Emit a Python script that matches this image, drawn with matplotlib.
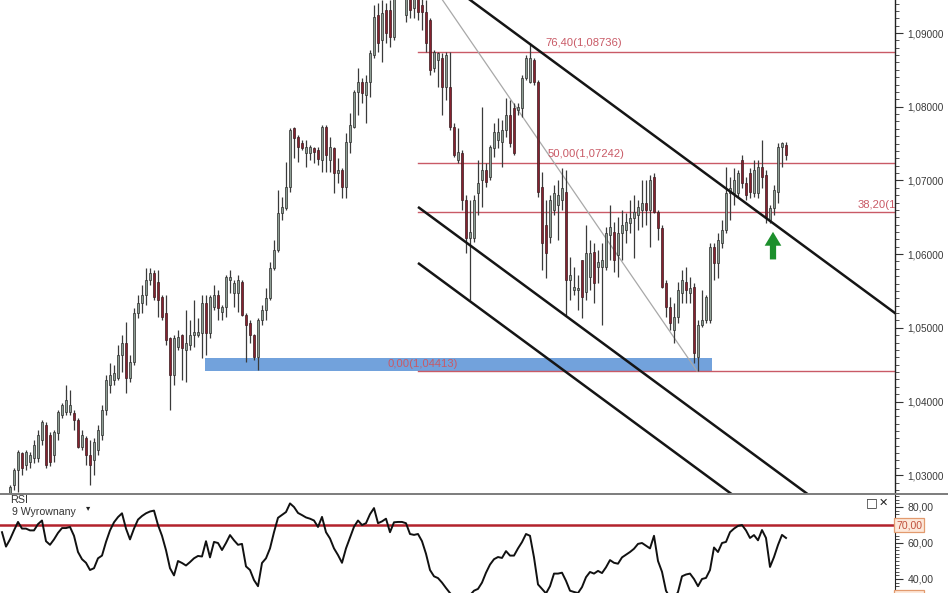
import matplotlib
matplotlib.use('Agg')
import matplotlib.pyplot as plt
from matplotlib.ticker import FixedLocator, MultipleLocator, FuncFormatter
from matplotlib.patches import Rectangle
from matplotlib.lines import Line2D
import numpy as np

plt.rcParams['font.family'] = ['Liberation Sans', 'DejaVu Sans']

# ---------------- data ----------------
open_ = [1.0262, 1.0270, 1.0276, 1.0287, 1.0307, 1.0330, 1.0314, 1.0318, 1.0323, 1.0323,
         1.0348, 1.0368, 1.0355, 1.0328, 1.0357, 1.0382, 1.0386, 1.0386, 1.0385, 1.0375,
         1.0338, 1.0351, 1.0328, 1.0321, 1.0334, 1.0355, 1.0389, 1.0423, 1.0429, 1.0432,
         1.0463, 1.0480, 1.0432, 1.0454, 1.0520, 1.0534, 1.0545, 1.0565, 1.0575, 1.0562,
         1.0542, 1.0520, 1.0486, 1.0436, 1.0474, 1.0490, 1.0470, 1.0477, 1.0490, 1.0490,
         1.0493, 1.0534, 1.0493, 1.0528, 1.0545, 1.0522, 1.0528, 1.0565, 1.0547, 1.0547,
         1.0562, 1.0518, 1.0507, 1.0490, 1.0461, 1.0511, 1.0524, 1.0541, 1.0581, 1.0606,
         1.0656, 1.0663, 1.0691, 1.0771, 1.0759, 1.0751, 1.0737, 1.0737, 1.0744, 1.0741,
         1.0728, 1.0773, 1.0728, 1.0744, 1.0710, 1.0714, 1.0691, 1.0752, 1.0773, 1.0820,
         1.0834, 1.0816, 1.0834, 1.0870, 1.0924, 1.0890, 1.0931, 1.0931, 1.0895, 1.0960,
         1.0980, 1.0924, 1.0960, 1.0934, 1.0950, 1.0938, 1.0929, 1.0918, 1.0853, 1.0863,
         1.0866, 1.0827, 1.0827, 1.0773, 1.0728, 1.0737, 1.0674, 1.0622, 1.0622, 1.0683,
         1.0701, 1.0714, 1.0705, 1.0744, 1.0755, 1.0752, 1.0769, 1.0789, 1.0798, 1.0796,
         1.0798, 1.0839, 1.0834, 1.0863, 1.0834, 1.0691, 1.0640, 1.0623, 1.0660, 1.0667,
         1.0674, 1.0684, 1.0565, 1.0551, 1.0551, 1.0592, 1.0549, 1.0569, 1.0603, 1.0583,
         1.0583, 1.0583, 1.0626, 1.0630, 1.0599, 1.0629, 1.0633, 1.0642, 1.0649, 1.0653,
         1.0660, 1.0670, 1.0660, 1.0705, 1.0657, 1.0636, 1.0561, 1.0528, 1.0497, 1.0515,
         1.0547, 1.0562, 1.0547, 1.0556, 1.0461, 1.0504, 1.0511, 1.0511, 1.0610, 1.0588,
         1.0615, 1.0633, 1.0683, 1.0683, 1.0683, 1.0728, 1.0697, 1.0710, 1.0683, 1.0683,
         1.0718, 1.0708, 1.0646, 1.0663, 1.0684, 1.0746, 1.0748]
high = [1.0275, 1.0276, 1.0287, 1.0310, 1.0334, 1.0332, 1.0334, 1.0332, 1.0348, 1.0362,
        1.0375, 1.0372, 1.0359, 1.0362, 1.0389, 1.0398, 1.0423, 1.0416, 1.0389, 1.0378,
        1.0362, 1.0353, 1.0348, 1.0351, 1.0368, 1.0395, 1.0436, 1.0452, 1.0450, 1.0477,
        1.0490, 1.0508, 1.0463, 1.0527, 1.0545, 1.0558, 1.0581, 1.0581, 1.0579, 1.0579,
        1.0545, 1.0545, 1.0488, 1.0490, 1.0497, 1.0492, 1.0524, 1.0511, 1.0538, 1.0513,
        1.0545, 1.0545, 1.0545, 1.0558, 1.0551, 1.0531, 1.0572, 1.0579, 1.0565, 1.0572,
        1.0565, 1.0520, 1.0511, 1.0492, 1.0513, 1.0531, 1.0554, 1.0589, 1.0619, 1.0687,
        1.0678, 1.0725, 1.0771, 1.0773, 1.0762, 1.0755, 1.0755, 1.0748, 1.0746, 1.0746,
        1.0775, 1.0775, 1.0759, 1.0746, 1.0731, 1.0717, 1.0765, 1.0792, 1.0823, 1.0853,
        1.0839, 1.0843, 1.0877, 1.0938, 1.0941, 1.0945, 1.0941, 1.0945, 1.0965, 1.0990,
        1.1007, 1.0990, 1.0970, 1.0960, 1.0960, 1.0950, 1.0945, 1.0920, 1.0877, 1.0874,
        1.0873, 1.0874, 1.0874, 1.0778, 1.0771, 1.0741, 1.0680, 1.0674, 1.0680, 1.0728,
        1.0800, 1.0724, 1.0748, 1.0778, 1.0785, 1.0782, 1.0812, 1.0809, 1.0805, 1.0805,
        1.0843, 1.0870, 1.0886, 1.0866, 1.0836, 1.0712, 1.0674, 1.0680, 1.0694, 1.0701,
        1.0717, 1.0714, 1.0596, 1.0583, 1.0572, 1.0592, 1.0640, 1.0619, 1.0615, 1.0606,
        1.0615, 1.0637, 1.0667, 1.0644, 1.0650, 1.0660, 1.0656, 1.0674, 1.0680, 1.0674,
        1.0701, 1.0701, 1.0708, 1.0710, 1.0660, 1.0640, 1.0565, 1.0542, 1.0534, 1.0562,
        1.0579, 1.0583, 1.0569, 1.0561, 1.0511, 1.0551, 1.0545, 1.0615, 1.0615, 1.0629,
        1.0646, 1.0718, 1.0704, 1.0717, 1.0714, 1.0735, 1.0705, 1.0717, 1.0728, 1.0728,
        1.0755, 1.0714, 1.0667, 1.0694, 1.0751, 1.0752, 1.0752]
low = [1.0255, 1.0258, 1.0267, 1.0280, 1.0277, 1.0300, 1.0307, 1.0310, 1.0317, 1.0318,
       1.0341, 1.0310, 1.0313, 1.0318, 1.0348, 1.0378, 1.0382, 1.0382, 1.0362, 1.0337,
       1.0334, 1.0314, 1.0287, 1.0300, 1.0328, 1.0348, 1.0382, 1.0412, 1.0423, 1.0429,
       1.0440, 1.0412, 1.0427, 1.0450, 1.0513, 1.0520, 1.0531, 1.0558, 1.0538, 1.0515,
       1.0511, 1.0477, 1.0389, 1.0423, 1.0470, 1.0429, 1.0427, 1.0470, 1.0474, 1.0488,
       1.0459, 1.0463, 1.0486, 1.0524, 1.0511, 1.0511, 1.0515, 1.0547, 1.0528, 1.0522,
       1.0516, 1.0454, 1.0480, 1.0456, 1.0443, 1.0504, 1.0511, 1.0538, 1.0579, 1.0603,
       1.0646, 1.0660, 1.0684, 1.0731, 1.0725, 1.0741, 1.0718, 1.0728, 1.0724, 1.0721,
       1.0712, 1.0712, 1.0712, 1.0683, 1.0697, 1.0676, 1.0676, 1.0737, 1.0771, 1.0789,
       1.0805, 1.0778, 1.0813, 1.0866, 1.0874, 1.0861, 1.0886, 1.0881, 1.0890, 1.0950,
       1.0960, 1.0915, 1.0920, 1.0920, 1.0918, 1.0904, 1.0874, 1.0843, 1.0847, 1.0827,
       1.0789, 1.0809, 1.0769, 1.0732, 1.0724, 1.0660, 1.0602, 1.0538, 1.0617, 1.0653,
       1.0664, 1.0691, 1.0701, 1.0732, 1.0744, 1.0718, 1.0759, 1.0746, 1.0735, 1.0789,
       1.0786, 1.0836, 1.0832, 1.0830, 1.0678, 1.0579, 1.0568, 1.0615, 1.0653, 1.0619,
       1.0660, 1.0518, 1.0538, 1.0545, 1.0524, 1.0513, 1.0538, 1.0551, 1.0534, 1.0561,
       1.0504, 1.0579, 1.0592, 1.0576, 1.0569, 1.0592, 1.0615, 1.0629, 1.0595, 1.0633,
       1.0637, 1.0640, 1.0610, 1.0656, 1.0619, 1.0554, 1.0515, 1.0497, 1.0480, 1.0507,
       1.0534, 1.0534, 1.0534, 1.0452, 1.0441, 1.0501, 1.0507, 1.0507, 1.0565, 1.0568,
       1.0608, 1.0629, 1.0646, 1.0667, 1.0678, 1.0690, 1.0674, 1.0676, 1.0678, 1.0676,
       1.0690, 1.0642, 1.0642, 1.0653, 1.0670, 1.0718, 1.0728]
close = [1.0270, 1.0266, 1.0284, 1.0307, 1.0332, 1.0310, 1.0332, 1.0328, 1.0341, 1.0355,
         1.0372, 1.0314, 1.0318, 1.0359, 1.0386, 1.0395, 1.0402, 1.0395, 1.0375, 1.0338,
         1.0355, 1.0328, 1.0314, 1.0345, 1.0362, 1.0389, 1.0429, 1.0436, 1.0439, 1.0463,
         1.0480, 1.0432, 1.0454, 1.0520, 1.0534, 1.0545, 1.0565, 1.0575, 1.0542, 1.0538,
         1.0515, 1.0484, 1.0436, 1.0486, 1.0488, 1.0473, 1.0480, 1.0490, 1.0494, 1.0494,
         1.0534, 1.0493, 1.0542, 1.0545, 1.0527, 1.0528, 1.0569, 1.0569, 1.0561, 1.0565,
         1.0518, 1.0504, 1.0490, 1.0461, 1.0511, 1.0524, 1.0541, 1.0581, 1.0606, 1.0656,
         1.0664, 1.0691, 1.0769, 1.0758, 1.0746, 1.0744, 1.0746, 1.0746, 1.0739, 1.0729,
         1.0773, 1.0735, 1.0746, 1.0710, 1.0714, 1.0691, 1.0752, 1.0775, 1.0820, 1.0834,
         1.0819, 1.0834, 1.0873, 1.0922, 1.0886, 1.0927, 1.0900, 1.0895, 1.0960, 1.0980,
         1.0975, 1.0975, 1.0931, 1.0950, 1.0929, 1.0929, 1.0886, 1.0850, 1.0874, 1.0873,
         1.0827, 1.0870, 1.0773, 1.0735, 1.0739, 1.0674, 1.0622, 1.0630, 1.0674, 1.0697,
         1.0714, 1.0698, 1.0746, 1.0766, 1.0766, 1.0769, 1.0789, 1.0751, 1.0737, 1.0800,
         1.0839, 1.0866, 1.0866, 1.0834, 1.0684, 1.0615, 1.0602, 1.0674, 1.0683, 1.0680,
         1.0690, 1.0565, 1.0572, 1.0556, 1.0554, 1.0542, 1.0602, 1.0602, 1.0561, 1.0589,
         1.0592, 1.0629, 1.0637, 1.0592, 1.0629, 1.0640, 1.0644, 1.0649, 1.0657, 1.0664,
         1.0670, 1.0660, 1.0701, 1.0657, 1.0636, 1.0556, 1.0528, 1.0507, 1.0515, 1.0551,
         1.0565, 1.0551, 1.0554, 1.0466, 1.0504, 1.0511, 1.0542, 1.0610, 1.0588, 1.0619,
         1.0633, 1.0683, 1.0690, 1.0701, 1.0710, 1.0697, 1.0680, 1.0684, 1.0714, 1.0718,
         1.0705, 1.0650, 1.0663, 1.0687, 1.0746, 1.0751, 1.0735]

rsi = [66, 58, 62, 67, 71.7, 68, 68, 67, 67, 70.5,
       72.5, 61, 59, 62, 65.6, 68.3, 68.3, 68.9, 64, 55,
       51, 49, 45, 46, 51.5, 53, 60.6, 67, 71.5, 74.4,
       76.5, 68, 62, 68, 73, 75, 76.5, 77.5, 78, 70,
       64, 56, 46, 42, 50, 48.9, 47.5, 49.4, 51.5, 52.8,
       52.5, 61, 52, 60.6, 60, 56.1, 60, 64.4, 61.5, 59,
       59.5, 47, 45, 39.4, 36, 48.9, 51.5, 57, 66, 74,
       75.6, 77.2, 82, 80, 76.7, 75.5, 74.2, 73.5, 72.5, 68.9,
       74.5, 66, 62.5, 57, 53.3, 49, 57, 63, 69, 72.5,
       70, 71, 76, 79.4, 71, 72, 73.5, 66, 71.5, 71.7,
       71.7, 71, 65, 64.5, 65, 61, 54, 45, 41.5, 40.5,
       38, 35, 32.2, 30, 29, 28.5, 29.5, 31, 33.5, 34.5,
       38, 43.5, 48, 51, 52.2, 51.7, 55.5, 53, 53, 57,
       60.5, 65, 64, 52, 37, 34.5, 32, 36, 43, 43,
       43.5, 39, 33.5, 32.8, 32.2, 35.5, 41, 43.9, 43, 44.5,
       43.3, 46.5, 50.5, 49, 48.5, 52, 53.5, 55, 56.8, 59.5,
       60, 58.5, 57, 64, 50, 44, 33.5, 29.5, 29, 32.8,
       41.5, 42.5, 43, 40, 36, 40, 40.6, 45, 57.5, 55,
       60, 60.6, 66, 68, 69.5, 70, 67, 62.8, 64.4, 61.5,
       67.2, 62.8, 46.7, 52.2, 58.9, 64.5, 62.8]

# Fibonacci retracement (0 = low, 100 = high)
fib_low = 1.04413
fib_high = 1.10071
fib_levels = [0.0, 38.2, 50.0, 76.4]
fib_start = 104          # bar index where the fib lines begin

# trend channel lines: (bar index, price) pairs
channel_upper = [(110, 1.0973), (225, 1.0513)]
channel_mid = [(104, 1.0664), (206, 1.0256)]
channel_low = [(104, 1.0588), (186, 1.0260)]
fib_trend = [(102.25, fib_high), (173.75, fib_low)]

# support zone
zone_x = (50.75, 177.5)
zone_y = (1.04413, 1.0459)

arrow_bar = 192.75
arrow_from, arrow_to = 1.0589, 1.0634

rsi_level = 70

# ---------------- figure ----------------
W, H = 948, 593
fig = plt.figure(figsize=(W / 100, H / 100), dpi=100)
fig.patch.set_facecolor('white')

sep_y = 493.5
ax = fig.add_axes([0, 1 - sep_y / H, 895 / W, sep_y / H])
ax2 = fig.add_axes([0, 0, 895 / W, (H - sep_y - 1) / H])

xlim = (-0.5, 223.25)

o = np.array(open_); h = np.array(high); l = np.array(low); c = np.array(close)
idx = np.arange(len(c))
up = c >= o

# support zone
ax.add_patch(Rectangle((zone_x[0], zone_y[0]), zone_x[1] - zone_x[0], zone_y[1] - zone_y[0],
                       facecolor='#72a2dc', edgecolor='none', zorder=1))

# fib lines
fib_col = '#c95a66'
for lev in fib_levels:
    p = fib_low + (fib_high - fib_low) * lev / 100.0
    ax.plot([fib_start, 230], [p, p], color=fib_col, lw=1.0, zorder=2)

def fib_label(lev):
    p = fib_low + (fib_high - fib_low) * lev / 100.0
    return (f'{lev:.2f}'.replace('.', ',') + '(' + f'{p:.5f}'.replace('.', ',') + ')'), p

t, p = fib_label(76.4)
ax.text(135.75, p + 0.00135, t, color=fib_col, fontsize=8.1, va='center', ha='left', zorder=6)
t, p = fib_label(50.0)
ax.text(136.5, p + 0.0011, t, color=fib_col, fontsize=8.1, va='center', ha='left', zorder=6)
t, p = fib_label(38.2)
ax.text(213.8, p + 0.00095, t, color=fib_col, fontsize=8.1, va='center', ha='left', zorder=6,
        clip_on=True)
t, p = fib_label(0.0)
ax.text(96.5, p + 0.00095, t, color=fib_col, fontsize=8.1, va='center', ha='left', zorder=6)

# thin fib trend line
ax.plot([q[0] for q in fib_trend], [q[1] for q in fib_trend], color='#a8a8a8', lw=0.9, zorder=2)

# candles
ax.vlines(idx, l, h, color='#3a3a3a', lw=0.9, zorder=3)
ax.bar(idx[up], np.maximum((c - o)[up], 0.00004), bottom=o[up], width=0.7,
       color='#8e9e94', edgecolor='#2c2c2c', lw=0.5, zorder=4)
ax.bar(idx[~up], (c - o)[~up], bottom=o[~up], width=0.7,
       color='#86222f', edgecolor='#3a1c20', lw=0.5, zorder=4)

# channel lines
for ln in (channel_upper, channel_mid, channel_low):
    ax.plot([q[0] for q in ln], [q[1] for q in ln], color='#151515', lw=1.8, zorder=5,
            solid_capstyle='butt')

# green arrow
ax.annotate('', xy=(arrow_bar, arrow_to), xytext=(arrow_bar, arrow_from),
            arrowprops=dict(arrowstyle='simple,head_width=1.2,head_length=1.0,tail_width=0.45',
                            color='#1c8f2c', lw=0), zorder=7)

ax.set_xlim(*xlim)
ax.set_ylim(1.09448 - sep_y * 0.00013569, 1.09448)
for s in ('left', 'top', 'bottom'):
    ax.spines[s].set_visible(False)
ax.spines['right'].set_color('#222222')
ax.spines['right'].set_linewidth(1.0)
ax.set_xticks([])
ax.yaxis.tick_right()
ax.yaxis.set_major_locator(FixedLocator([1.03, 1.04, 1.05, 1.06, 1.07, 1.08, 1.09]))
ax.yaxis.set_minor_locator(MultipleLocator(0.001))
ax.yaxis.set_major_formatter(FuncFormatter(lambda v, pos: f'{v:.5f}'.replace('.', ',')))
ax.tick_params(axis='y', which='major', length=6, width=0.8, color='#333333',
               labelsize=7.2, labelcolor='#3a3a3a', pad=3)
ax.tick_params(axis='y', which='minor', length=3, width=0.6, color='#333333')

# ---------------- RSI panel ----------------
ax2.plot(idx, rsi, color='#111111', lw=1.4, zorder=3)
ax2.axhline(rsi_level, color='#b3222c', lw=1.8, zorder=2)
ax2.set_xlim(*xlim)
ax2.set_ylim(70 - (H - 525) / 1.8, 70 + (525 - sep_y - 1) / 1.8)
for s in ('left', 'top', 'bottom'):
    ax2.spines[s].set_visible(False)
ax2.spines['right'].set_color('#222222')
ax2.set_xticks([])
ax2.yaxis.tick_right()
ax2.yaxis.set_major_locator(FixedLocator([40, 60, 80]))
ax2.yaxis.set_minor_locator(MultipleLocator(2))
ax2.yaxis.set_major_formatter(FuncFormatter(lambda v, pos: f'{v:.2f}'.replace('.', ',')))
ax2.tick_params(axis='y', which='major', length=6, width=0.8, color='#333333',
                labelsize=7.6, labelcolor='#3a3a3a', pad=3)
ax2.tick_params(axis='y', which='minor', length=3, width=0.6, color='#333333')

boxprops = dict(boxstyle='square,pad=0.18', facecolor='#fde8da', edgecolor='#e29a6e', lw=0.9)
ax2.text(1.0 + 1 / 895, rsi_level, f'{rsi_level:.2f}'.replace('.', ','),
         transform=ax2.get_yaxis_transform(), fontsize=7.6, color='#c0503c',
         va='center', ha='left', bbox=boxprops, clip_on=False)
ax2.text(1.0 + 1 / 895, 30, '30,00', transform=ax2.get_yaxis_transform(), fontsize=7.6,
         color='#c0503c', va='center', ha='left', bbox=boxprops, clip_on=False)

# separator
fig.add_artist(Line2D([0, 1], [1 - sep_y / H] * 2, transform=fig.transFigure,
                      color='#7c7c7c', lw=1.4))

# panel captions
fig.text(10 / W, 1 - 500 / H, 'RSI', fontsize=7.8, color='#333333', va='center', ha='left')
fig.text(12 / W, 1 - 512 / H, '9 Wyrownany', fontsize=7.6, color='#333333', va='center', ha='left')
fig.text(86 / W, 1 - 508 / H, '\u25be', fontsize=6, color='#222222', va='center', ha='left',
         family=['DejaVu Sans'])
fig.text(866 / W, 1 - 503 / H, '\u25a1', fontsize=9, color='#333333', va='center', ha='left',
         family=['DejaVu Sans'])
fig.text(879 / W, 1 - 503 / H, '\u2715', fontsize=8, color='#222222', va='center', ha='left',
         family=['DejaVu Sans'], fontweight='bold')

fig.savefig('out.png', dpi=100, facecolor='white')
